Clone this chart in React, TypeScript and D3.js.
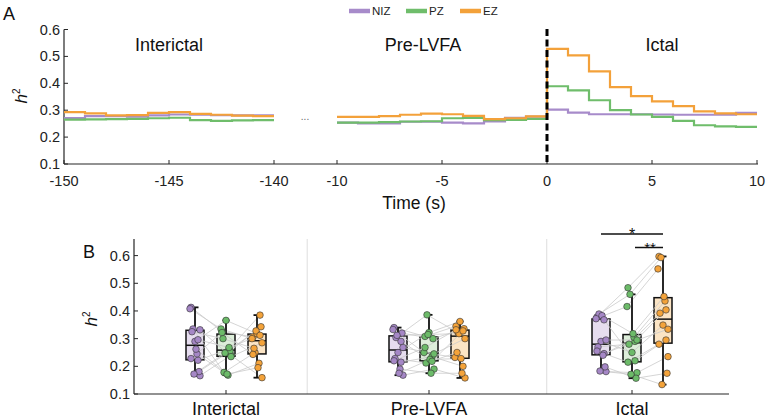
import React from "react";
import * as d3 from "d3";

// h2 over time, 1 s bins
const nizInterictal = [0.271, 0.278, 0.278, 0.276, 0.281, 0.284, 0.283, 0.282, 0.281, 0.281];
const pzInterictal = [0.265, 0.266, 0.267, 0.268, 0.270, 0.272, 0.263, 0.260, 0.262, 0.263];
const ezInterictal = [0.293, 0.288, 0.281, 0.282, 0.290, 0.293, 0.286, 0.283, 0.280, 0.278];

// -10 s .. 10 s around LVFA onset
const nizPeri = [0.254, 0.251, 0.251, 0.257, 0.257, 0.254, 0.251, 0.258, 0.272, 0.276, 0.302, 0.291, 0.285, 0.285, 0.285, 0.284, 0.283, 0.283, 0.283, 0.290];
const pzPeri = [0.254, 0.254, 0.256, 0.258, 0.259, 0.270, 0.271, 0.263, 0.264, 0.268, 0.389, 0.374, 0.337, 0.300, 0.284, 0.275, 0.260, 0.244, 0.240, 0.238];
const ezPeri = [0.275, 0.275, 0.278, 0.283, 0.287, 0.285, 0.279, 0.267, 0.270, 0.277, 0.528, 0.504, 0.444, 0.386, 0.352, 0.333, 0.315, 0.296, 0.288, 0.285];

const zones = ["NIZ", "PZ", "EZ"];
const periods = ["Interictal", "Pre-LVFA", "Ictal"];

// per-patient h2, one array per period and zone (same patient order)
const nizByPatient = [
  [0.413, 0.222, 0.335, 0.166, 0.290, 0.408, 0.245, 0.181, 0.325, 0.262, 0.172, 0.332, 0.228, 0.296],
  [0.340, 0.215, 0.304, 0.168, 0.250, 0.333, 0.190, 0.320, 0.228, 0.175, 0.312, 0.268, 0.220, 0.290],
  [0.378, 0.246, 0.389, 0.181, 0.290, 0.372, 0.240, 0.198, 0.270, 0.383, 0.183, 0.295, 0.255, 0.368],
];
const pzByPatient = [
  [0.326, 0.262, 0.178, 0.240, 0.366, 0.335, 0.168, 0.255, 0.300, 0.172, 0.248, 0.235, 0.322, 0.268],
  [0.308, 0.235, 0.386, 0.190, 0.322, 0.250, 0.175, 0.300, 0.212, 0.225, 0.315, 0.245, 0.268, 0.218],
  [0.484, 0.290, 0.460, 0.177, 0.250, 0.416, 0.305, 0.157, 0.280, 0.318, 0.171, 0.295, 0.215, 0.220],
];
const ezByPatient = [
  [0.306, 0.385, 0.250, 0.159, 0.318, 0.300, 0.211, 0.343, 0.265, 0.195, 0.328, 0.285, 0.243, 0.312],
  [0.345, 0.200, 0.322, 0.158, 0.362, 0.232, 0.175, 0.336, 0.250, 0.228, 0.318, 0.300, 0.332, 0.328],
  [0.597, 0.404, 0.593, 0.235, 0.349, 0.552, 0.436, 0.175, 0.392, 0.452, 0.134, 0.334, 0.280, 0.295],
];

const yTicks = [0.1, 0.2, 0.3, 0.4, 0.5, 0.6];
const interictalTicks = [-150, -145, -140];
const periTicks = [-10, -5, 0, 5, 10];

const lineColors = ["#a78bca", "#6fbd6b", "#f3a13a"];
const boxFills = ["#e6ddef", "#ddeeda", "#fbe4c4"];
const dotFills = ["#a587c6", "#6cbb69", "#f4a33a"];

// fixed horizontal spread of the patient dots, px
const spread = [-4, 3, -2, 5, 0, -5, 2, 4, -3, 1, -1, 5, -4, 3];

const FONT = "'Liberation Sans', Arial, Helvetica, sans-serif";
const AX = "#262626";

function steps(values: number[], start: number): [number, number][] {
  const pts: [number, number][] = values.map((v, i) => [start + i, v]);
  pts.push([start + values.length, values[values.length - 1]]);
  return pts;
}

function boxStats(values: number[]) {
  const s = values.slice().sort(d3.ascending);
  const q1 = d3.quantileSorted(s, 0.25)!;
  const med = d3.quantileSorted(s, 0.5)!;
  const q3 = d3.quantileSorted(s, 0.75)!;
  const iqr = q3 - q1;
  const lo = d3.min(s.filter((v) => v >= q1 - 1.5 * iqr))!;
  const hi = d3.max(s.filter((v) => v <= q3 + 1.5 * iqr))!;
  return { q1, med, q3, lo, hi };
}

const H2 = ({ x, y }: { x: number; y: number }) => (
  <text
    transform={`translate(${x},${y}) rotate(-90)`}
    textAnchor="middle"
    fontFamily={FONT}
    fontSize={17}
    fill="#111"
  >
    <tspan fontStyle="italic">h</tspan>
    <tspan fontSize={10} dy={-7}>2</tspan>
  </text>
);

export default function App() {
  // panel A
  const yA = d3.scaleLinear().domain([0.1, 0.6]).range([164, 29.5]);
  const xInter = d3.scaleLinear().domain([-150, -140]).range([64, 274]);
  const xPeri = d3.scaleLinear().domain([-10, 10]).range([337, 757]);

  const interLine = d3
    .line<[number, number]>()
    .x((d) => xInter(d[0]))
    .y((d) => yA(d[1]))
    .curve(d3.curveStepAfter);
  const periLine = d3
    .line<[number, number]>()
    .x((d) => xPeri(d[0]))
    .y((d) => yA(d[1]))
    .curve(d3.curveStepAfter);

  const interSeries = [nizInterictal, pzInterictal, ezInterictal];
  const periSeries = [nizPeri, pzPeri, ezPeri];

  // panel B
  const yB = d3.scaleLinear().domain([0.1, 0.66]).range([394, 239]);
  const xB = d3.scaleLinear().domain([0, 2]).range([226, 632]);
  const bLeft = 134;
  const bRight = 729;
  const offsets = [-31, 0, 31];
  const boxW = 18;
  const byZone = [nizByPatient, pzByPatient, ezByPatient];

  return (
    <svg
      width={767}
      height={418}
      style={{ position: "absolute", left: 0, top: 0, background: "#fff" }}
    >
      {/* legend */}
      {zones.map((z, i) => {
        const lx = [349, 406, 460][i];
        return (
          <g key={z}>
            <line x1={lx} x2={lx + 21} y1={11} y2={11} stroke={lineColors[i]} strokeWidth={4.5} />
            <text x={lx + 23} y={15} fontFamily={FONT} fontSize={11.5} fill="#222">
              {z}
            </text>
          </g>
        );
      })}

      <text x={3} y={20} fontFamily={FONT} fontSize={18} fill="#111">A</text>
      <H2 x={27} y={96} />

      {/* A axes */}
      <line x1={64} x2={64} y1={yA(0.6)} y2={yA(0.1)} stroke={AX} strokeWidth={1.2} />
      <line x1={64} x2={758} y1={yA(0.1)} y2={yA(0.1)} stroke={AX} strokeWidth={1.2} />
      {yTicks.map((t) => (
        <g key={t}>
          <line x1={64} x2={68} y1={yA(t)} y2={yA(t)} stroke={AX} />
          <text x={60} y={yA(t) + 5} textAnchor="end" fontFamily={FONT} fontSize={14.5} fill="#222">
            {t.toFixed(1)}
          </text>
        </g>
      ))}
      {interictalTicks.map((t) => (
        <g key={t}>
          <line x1={xInter(t)} x2={xInter(t)} y1={yA(0.1)} y2={yA(0.1) - 4} stroke={AX} />
          <text x={xInter(t)} y={186} textAnchor="middle" fontFamily={FONT} fontSize={14.5} fill="#222">
            {t}
          </text>
        </g>
      ))}
      {periTicks.map((t) => (
        <g key={t}>
          <line x1={xPeri(t)} x2={xPeri(t)} y1={yA(0.1)} y2={yA(0.1) - 4} stroke={AX} />
          <text x={xPeri(t)} y={186} textAnchor="middle" fontFamily={FONT} fontSize={14.5} fill="#222">
            {t}
          </text>
        </g>
      ))}
      <text x={414} y={209} textAnchor="middle" fontFamily={FONT} fontSize={17.5} fill="#111">
        Time (s)
      </text>
      <text x={305} y={120} textAnchor="middle" fontFamily={FONT} fontSize={10} fill="#666">
        ...
      </text>

      {["Interictal", "Pre-LVFA", "Ictal"].map((p, i) => (
        <text
          key={p}
          x={[169, 423, 662][i]}
          y={51}
          textAnchor="middle"
          fontFamily={FONT}
          fontSize={18}
          fill="#111"
        >
          {p}
        </text>
      ))}

      {interSeries.map((s, i) => (
        <path key={"i" + i} d={interLine(steps(s, -150))!} fill="none" stroke={lineColors[i]} strokeWidth={2.2} />
      ))}
      {periSeries.map((s, i) => (
        <path key={"p" + i} d={periLine(steps(s, -10))!} fill="none" stroke={lineColors[i]} strokeWidth={2.2} />
      ))}
      <line
        x1={xPeri(0)}
        x2={xPeri(0)}
        y1={29}
        y2={yA(0.1)}
        stroke="#000"
        strokeWidth={3}
        strokeDasharray="7,3.5"
      />

      {/* panel B */}
      <text x={83} y={258} fontFamily={FONT} fontSize={18} fill="#111">B</text>
      <H2 x={97} y={319} />

      {[0.4, 1.58].map((d) => (
        <line key={d} x1={xB(d)} x2={xB(d)} y1={yB(0.66)} y2={yB(0.1)} stroke="#dedede" strokeWidth={1} />
      ))}
      <line x1={bLeft} x2={bLeft} y1={yB(0.66)} y2={yB(0.1)} stroke={AX} strokeWidth={1.2} />
      <line x1={bLeft} x2={bRight} y1={yB(0.1)} y2={yB(0.1)} stroke={AX} strokeWidth={1.2} />
      {yTicks.map((t) => (
        <g key={t}>
          <line x1={bLeft} x2={bLeft + 4} y1={yB(t)} y2={yB(t)} stroke={AX} />
          <text x={130} y={yB(t) + 5} textAnchor="end" fontFamily={FONT} fontSize={14.5} fill="#222">
            {t.toFixed(1)}
          </text>
        </g>
      ))}
      {periods.map((p, c) => (
        <g key={p}>
          <line x1={xB(c)} x2={xB(c)} y1={yB(0.1)} y2={yB(0.1) - 4} stroke={AX} />
          <text x={xB(c)} y={415} textAnchor="middle" fontFamily={FONT} fontSize={18} fill="#111">
            {p}
          </text>
        </g>
      ))}

      {periods.map((p, c) => {
        const stats = byZone.map((z) => boxStats(z[c]));
        const n = byZone[0][c].length;
        return (
          <g key={p}>
            {stats.map((s, z) => {
              const cx = xB(c) + offsets[z];
              return (
                <g key={z}>
                  <rect
                    x={cx - boxW / 2}
                    y={yB(s.q3)}
                    width={boxW}
                    height={yB(s.q1) - yB(s.q3)}
                    fill={boxFills[z]}
                    stroke="#111"
                    strokeWidth={1.5}
                  />
                  <line x1={cx - boxW / 2} x2={cx + boxW / 2} y1={yB(s.med)} y2={yB(s.med)} stroke="#111" strokeWidth={1.5} />
                </g>
              );
            })}
            {d3.range(n).map((i) => (
              <polyline
                key={"l" + i}
                points={byZone
                  .map((z, k) => `${xB(c) + offsets[k] + spread[i]},${yB(z[c][i])}`)
                  .join(" ")}
                fill="none"
                stroke="#cacaca"
                strokeWidth={0.8}
              />
            ))}
            {stats.map((s, z) => {
              const cx = xB(c) + offsets[z];
              return (
                <g key={"w" + z} stroke="#111" strokeWidth={1.8}>
                  <line x1={cx} x2={cx} y1={yB(s.q3)} y2={yB(s.hi)} />
                  <line x1={cx} x2={cx} y1={yB(s.q1)} y2={yB(s.lo)} />
                  <line x1={cx - 3.5} x2={cx + 3.5} y1={yB(s.hi)} y2={yB(s.hi)} />
                  <line x1={cx - 3.5} x2={cx + 3.5} y1={yB(s.lo)} y2={yB(s.lo)} />
                </g>
              );
            })}
            {byZone.map((zv, z) =>
              zv[c].map((v, i) => (
                <circle
                  key={z + "-" + i}
                  cx={xB(c) + offsets[z] + spread[i]}
                  cy={yB(v)}
                  r={3.3}
                  fill={dotFills[z]}
                  stroke="#333"
                  strokeWidth={0.6}
                />
              ))
            )}
          </g>
        );
      })}

      {/* significance, ictal */}
      <line x1={xB(2) + offsets[0]} x2={xB(2) + offsets[2]} y1={234} y2={234} stroke="#111" strokeWidth={1.5} />
      <text x={(xB(2) + offsets[0] + xB(2) + offsets[2]) / 2} y={239.5} textAnchor="middle" fontFamily={FONT} fontSize={16} fill="#111">
        *
      </text>
      <line x1={xB(2) + 3} x2={xB(2) + offsets[2]} y1={247.5} y2={247.5} stroke="#111" strokeWidth={1.5} />
      <text x={xB(2) + 18} y={252.5} textAnchor="middle" fontFamily={FONT} fontSize={15} fill="#111">
        **
      </text>
    </svg>
  );
}
